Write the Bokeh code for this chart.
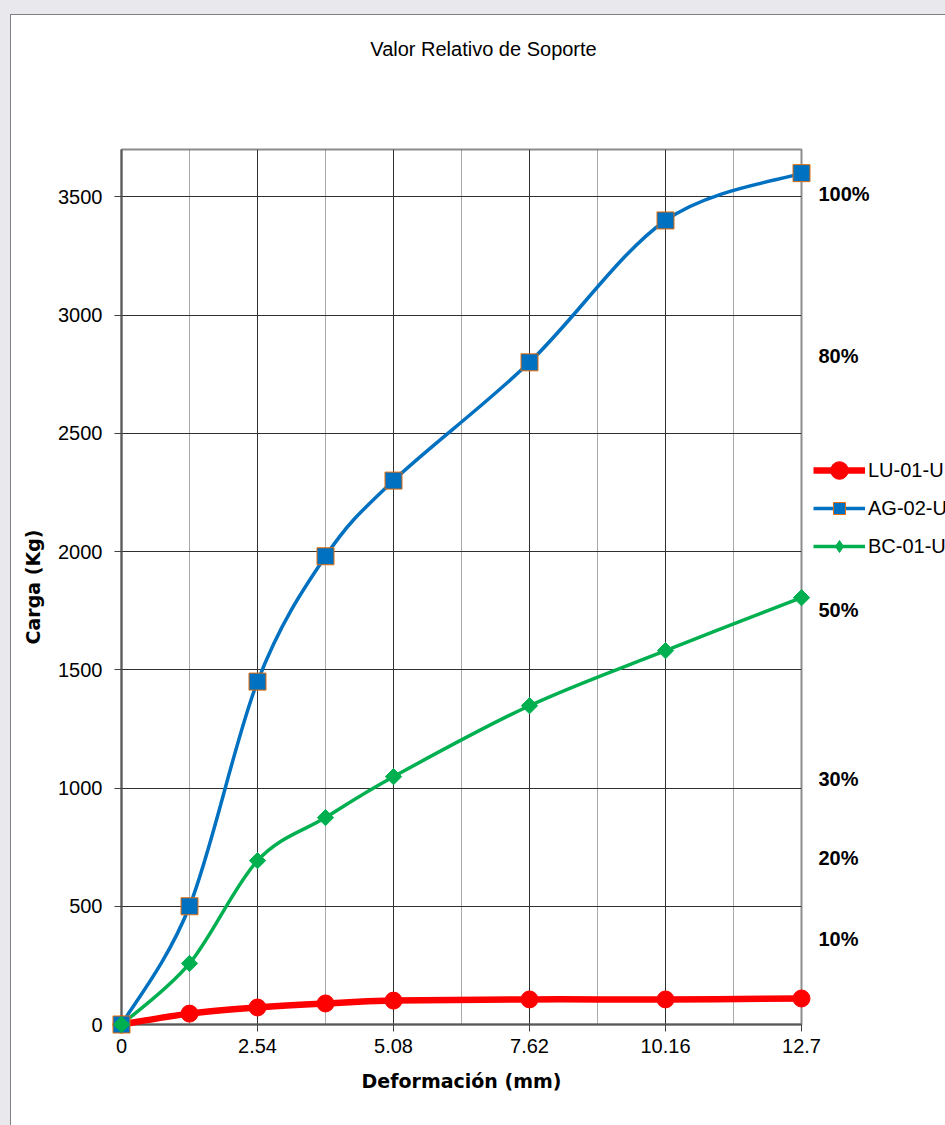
import numpy as np
from bokeh.plotting import figure
from bokeh.models import (Range1d, FixedTicker, Legend, LegendItem, Label, ColumnDataSource)
from bokeh.embed import file_html
from bokeh.resources import INLINE

# ---- data ----
deformacion = [0, 1.27, 2.54, 3.81, 5.08, 7.62, 10.16, 12.7]
lu_01 = [0, 46, 72, 89, 101, 106, 106, 110]
ag_02 = [0, 500, 1450, 1980, 2300, 2800, 3400, 3600]
bc_01 = [0, 258, 693, 875, 1048, 1348, 1581, 1805]
series_names = ["LU-01-U", "AG-02-U", "BC-01-U"]

x_major_ticks = [0, 2.54, 5.08, 7.62, 10.16, 12.7]
x_tick_labels = ["0", "2.54", "5.08", "7.62", "10.16", "12.7"]
x_minor_ticks = [1.27, 3.81, 6.35, 8.89, 11.43]
y_ticks = [0, 500, 1000, 1500, 2000, 2500, 3000, 3500]

pct_labels = ["100%", "80%", "50%", "30%", "20%", "10%"]
pct_levels = [3512, 2828, 1754, 1040, 702, 363]

title_text = "Valor Relativo de Soporte"
x_label = "Deformación (mm)"
y_label = "Carga (Kg)"

X_MAX = 12.7
Y_MAX = 3700

# ---- layout constants ----
W, H = 945, 1125
ML, MR, MT, MB = 121, 144, 149, 101
PX_X = (W - ML - MR) / X_MAX
PX_Y = (H - MT - MB) / Y_MAX

ARIAL = "Liberation Sans"
BOLDF = "DejaVu Sans"
RED = "#FF0000"
BLUE = "#0070C0"
GREEN = "#00B050"
ORANGE = "#E46C0A"

# ---- main figure: axes, grid, plot area ----
p = figure(width=W, height=H, output_backend="svg", toolbar_location=None,
           x_range=Range1d(0, X_MAX), y_range=Range1d(0, Y_MAX),
           min_border_left=ML, min_border_right=MR, min_border_top=MT, min_border_bottom=MB)
p.background_fill_color = "white"
p.border_fill_color = None
p.styles = {"background-color": "white",
            "box-shadow": "inset 10px 14px 0 0 #e9e9ed, inset 11px 15px 0 0 #808080"}
p.outline_line_color = "#8c8c8c"
p.outline_line_width = 2

xax = p.xaxis[0]
yax = p.yaxis[0]
xax.ticker = FixedTicker(ticks=x_major_ticks, minor_ticks=x_minor_ticks)
xax.major_label_overrides = {t: l for t, l in zip(x_major_ticks, x_tick_labels)}
yax.ticker = FixedTicker(ticks=y_ticks)
for ax in (xax, yax):
    ax.major_tick_out = 7
    ax.major_tick_in = 0
    ax.minor_tick_out = 0
    ax.minor_tick_in = 0
    ax.major_tick_line_color = "#404040"
    ax.axis_line_color = "#595959"
    ax.axis_line_width = 2
    ax.major_label_text_font = ARIAL
    ax.major_label_text_font_size = "20px"
    ax.major_label_text_color = "black"
    ax.axis_label_text_font = BOLDF
    ax.axis_label_text_font_style = "bold"
    ax.axis_label_text_font_size = "19px"
    ax.axis_label_text_color = "black"
xax.major_label_standoff = 7
yax.major_label_standoff = 12
xax.axis_label_standoff = 14
yax.axis_label_standoff = 11
xax.axis_label = x_label
yax.axis_label = y_label

p.xgrid.ticker = xax.ticker
p.xgrid.grid_line_color = "#303030"
p.xgrid.grid_line_width = 1
p.xgrid.minor_grid_line_color = "#555555"
p.xgrid.minor_grid_line_dash = "1 1"
p.xgrid.minor_grid_line_width = 1
p.ygrid.ticker = yax.ticker
p.ygrid.grid_line_color = "#303030"
p.ygrid.grid_line_width = 1

# ---- transparent overlay with the same data scale, spanning the whole canvas ----
q = figure(width=W, height=H, output_backend="svg", toolbar_location=None,
           x_range=Range1d(-ML / PX_X, (W - ML) / PX_X),
           y_range=Range1d(-MB / PX_Y, (H - MB) / PX_Y),
           x_axis_location=None, y_axis_location=None,
           min_border=0, min_border_left=0, min_border_right=0, min_border_top=0, min_border_bottom=0)
q.grid.visible = False
q.background_fill_color = None
q.border_fill_color = None
q.outline_line_color = None
q.styles = {"position": "absolute", "top": "0px", "left": "0px"}


def bezier_source(xs, ys):
    pts = np.column_stack([xs, ys]).astype(float)
    n = len(pts)
    d = dict(x0=[], y0=[], x1=[], y1=[], cx0=[], cy0=[], cx1=[], cy1=[])
    for i in range(n - 1):
        p0 = pts[i]
        p3 = pts[i + 1]
        prev = pts[i - 1] if i > 0 else pts[i]
        nxt = pts[i + 2] if i + 2 < n else pts[i + 1]
        c1 = p0 + (p3 - prev) / 6.0
        c2 = p3 - (nxt - p0) / 6.0
        d["x0"].append(p0[0]); d["y0"].append(p0[1])
        d["x1"].append(p3[0]); d["y1"].append(p3[1])
        d["cx0"].append(c1[0]); d["cy0"].append(c1[1])
        d["cx1"].append(c2[0]); d["cy1"].append(c2[1])
    return ColumnDataSource(d)


BZ = dict(x0="x0", y0="y0", x1="x1", y1="y1", cx0="cx0", cy0="cy0", cx1="cx1", cy1="cy1")
c_ag = q.bezier(source=bezier_source(deformacion, ag_02), line_color=BLUE, line_width=3.5, **BZ)
c_bc = q.bezier(source=bezier_source(deformacion, bc_01), line_color=GREEN, line_width=3.5, **BZ)
c_lu = q.bezier(source=bezier_source(deformacion, lu_01), line_color=RED, line_width=6.5, **BZ)

m_lu = q.scatter(deformacion, lu_01, marker="circle", size=17, fill_color=RED, line_color=RED)
m_ag = q.scatter(deformacion, ag_02, marker="square", size=17, fill_color=BLUE, line_color=ORANGE, line_width=1)
m_bc = q.scatter(deformacion, bc_01, marker="square", angle=np.pi / 4, size=11.5,
                 fill_color=GREEN, line_color=GREEN)
# legend-only diamond symbol (zero size on the chart; the legend sizes it itself)
m_bc_leg = q.scatter(deformacion, bc_01, marker="diamond", size=0, fill_color=GREEN, line_color=GREEN)

LEG = dict(orientation="vertical", glyph_width=52, label_height=20, label_standoff=3,
           padding=0, margin=0, spacing=0, border_line_color=None, background_fill_alpha=0,
           label_text_font=ARIAL, label_text_font_size="20px", label_text_color="black")
legend_rows = [(series_names[0], [c_lu, m_lu], 44, 470),
               (series_names[1], [c_ag, m_ag], 30, 508),
               (series_names[2], [c_bc, m_bc_leg], 30, 546)]
for name, rends, gh, cy in legend_rows:
    q.add_layout(Legend(items=[LegendItem(label=name, renderers=rends, index=0)],
                        location=(813, H - (cy + gh / 2)), glyph_height=gh, **LEG), "center")

q.add_layout(Label(x=(483 - ML) / PX_X, y=(H - MB - 48) / PX_Y, text=title_text,
                   text_align="center", text_baseline="middle",
                   text_font=ARIAL, text_font_size="20px", text_color="black"))
for txt, lvl in zip(pct_labels, pct_levels):
    q.add_layout(Label(x=(818 - ML) / PX_X, y=lvl, text=txt, text_align="left", text_baseline="middle",
                       text_font=ARIAL, text_font_size="20px", text_font_style="bold",
                       text_color="black"))

open("out.html", "w").write(file_html([p, q], INLINE))
